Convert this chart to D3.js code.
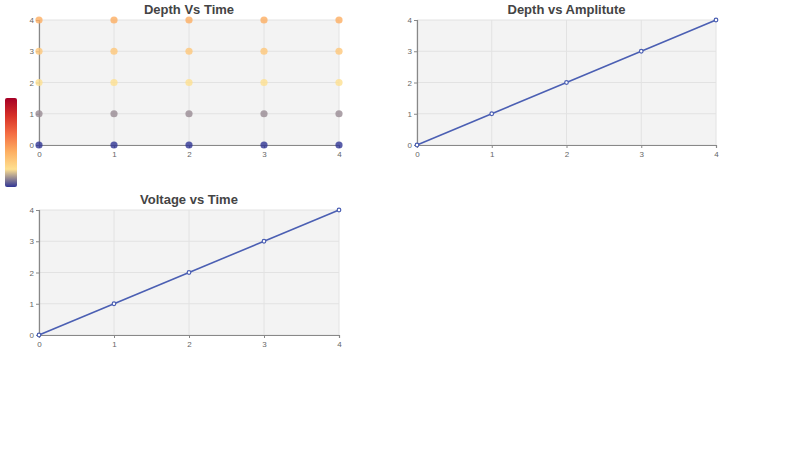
<!DOCTYPE html>
<html><head><meta charset="utf-8">
<script src="https://cdn.jsdelivr.net/npm/d3@7"></script>
<style>body{margin:0;background:#fff;}svg{display:block;font-family:"Liberation Sans",Arial,sans-serif;}</style>
</head><body>
<svg id="c" width="800" height="450"></svg>
<script>
const xTicks = [0, 1, 2, 3, 4];
const yTicks = [0, 1, 2, 3, 4];
const scatterX = [0, 1, 2, 3, 4];
const scatterY = [0, 1, 2, 3, 4];
const amplitude = [0, 1, 2, 3, 4];
const depthA = [0, 1, 2, 3, 4];
const time = [0, 1, 2, 3, 4];
const voltage = [0, 1, 2, 3, 4];
const colorStops = ['#313695', '#fee090', '#fdae61', '#f46d43', '#d73027', '#a50026'];
const visualMin = 0, visualMax = 10;

const svg = d3.select('#c');
const lineColor = '#4b5fb3';

function panel(x0, y0, w, h, title) {
  const g = svg.append('g').attr('transform', `translate(${x0},${y0})`);
  const x = d3.scaleLinear().domain([0, 4]).range([0, w]);
  const y = d3.scaleLinear().domain([0, 4]).range([h, 0]);
  g.append('rect').attr('width', w).attr('height', h).attr('fill', '#f3f3f3');
  g.selectAll('.gx').data(xTicks).enter().append('line')
    .attr('x1', d => x(d)).attr('x2', d => x(d)).attr('y1', 0).attr('y2', h)
    .attr('stroke', '#e2e2e2').attr('stroke-width', 1);
  g.selectAll('.gy').data(yTicks).enter().append('line')
    .attr('y1', d => y(d)).attr('y2', d => y(d)).attr('x1', 0).attr('x2', w)
    .attr('stroke', '#e2e2e2').attr('stroke-width', 1);
  const ax = g.append('g').attr('transform', `translate(0,${h})`)
    .call(d3.axisBottom(x).tickValues(xTicks).tickSize(3).tickPadding(3).tickFormat(d3.format('d')));
  const ay = g.append('g')
    .call(d3.axisLeft(y).tickValues(yTicks).tickSize(3).tickPadding(2).tickFormat(d3.format('d')));
  [ax, ay].forEach(a => {
    a.select('.domain').attr('stroke', '#888').attr('stroke-width', 1.2);
    a.selectAll('.tick line').attr('stroke', '#888');
    a.selectAll('.tick text').attr('fill', '#666').attr('font-size', 8);
  });
  svg.append('text').attr('x', x0 + w / 2).attr('y', y0 - 6)
    .attr('text-anchor', 'middle').attr('font-size', 13).attr('font-weight', 'bold')
    .attr('fill', '#444').text(title);
  return {g, x, y};
}

// Panel 1: scatter
const p1 = panel(39, 20, 300, 125, 'Depth Vs Time');
const cScale = d3.scaleLinear()
  .domain(colorStops.map((c, i) => visualMin + (visualMax - visualMin) * i / (colorStops.length - 1)))
  .range(colorStops).interpolate(d3.interpolateRgb);
const pts = [];
scatterX.forEach(xv => scatterY.forEach(yv => pts.push({x: xv, y: yv, v: yv})));
p1.g.selectAll('.pt').data(pts).enter().append('circle')
  .attr('cx', d => p1.x(d.x)).attr('cy', d => p1.y(d.y)).attr('r', 3.6)
  .attr('fill', d => cScale(d.v)).attr('fill-opacity', 0.8);

// color bar
const defs = svg.append('defs');
const grad = defs.append('linearGradient').attr('id', 'vm').attr('x1', 0).attr('x2', 0).attr('y1', 1).attr('y2', 0);
colorStops.forEach((c, i) => grad.append('stop').attr('offset', i / (colorStops.length - 1)).attr('stop-color', c));
svg.append('rect').attr('x', 5).attr('y', 98).attr('width', 12).attr('height', 89)
  .attr('rx', 2).attr('fill', 'url(#vm)');

// Line panels
function linePanel(p, xs, ys) {
  const data = xs.map((d, i) => [d, ys[i]]);
  p.g.append('path').datum(data)
    .attr('d', d3.line().x(d => p.x(d[0])).y(d => p.y(d[1])))
    .attr('fill', 'none').attr('stroke', lineColor).attr('stroke-width', 1.6);
  p.g.selectAll('.m').data(data).enter().append('circle')
    .attr('cx', d => p.x(d[0])).attr('cy', d => p.y(d[1])).attr('r', 1.8)
    .attr('fill', '#fff').attr('stroke', lineColor).attr('stroke-width', 1.2);
}
const p2 = panel(417, 20, 299, 125, 'Depth vs Amplitute');
linePanel(p2, amplitude, depthA);
const p3 = panel(39, 210, 300, 125, 'Voltage vs Time');
linePanel(p3, time, voltage);
</script>
</body></html>
